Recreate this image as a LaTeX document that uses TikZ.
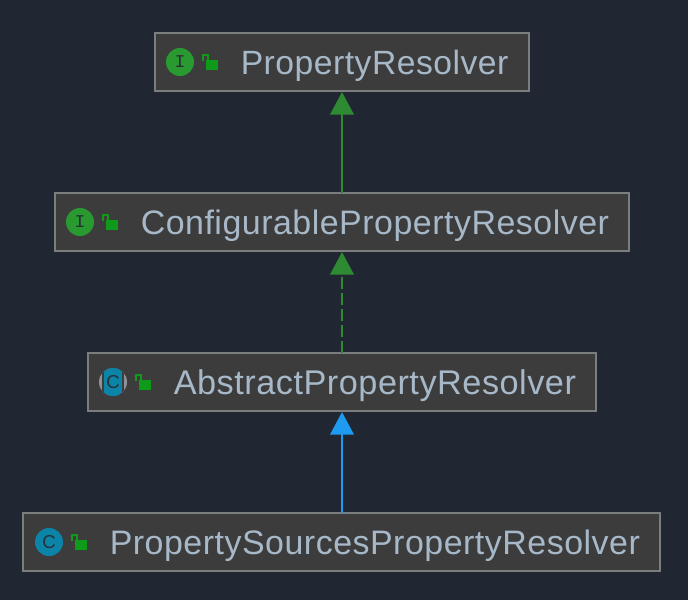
\documentclass[tikz,border=0pt]{standalone}
\usepackage{fontspec}
\setmainfont{Liberation Sans}
\newfontfamily\labelfont[LetterSpace=1.5]{Liberation Sans}
\newfontfamily\iconfont{Liberation Mono}
\usetikzlibrary{arrows.meta,calc}
\definecolor{bgc}{HTML}{212732}
\definecolor{boxc}{HTML}{3C3C3C}
\definecolor{edgec}{HTML}{7B7E7F}
\definecolor{textc}{HTML}{A7B8C8}
\definecolor{greenc}{HTML}{2E8B34}
\definecolor{bluec}{HTML}{1E9BF0}
\definecolor{ifacec}{HTML}{289A30}
\definecolor{lockc}{HTML}{0F9A1A}
\definecolor{classc}{HTML}{0B84A8}
\definecolor{greyc}{HTML}{8E9296}
\definecolor{glyphc}{HTML}{2A3038}
\tikzset{
  x=0.75pt,y=-0.75pt,
  classbox/.style={draw=edgec,fill=boxc,line width=1.9pt,minimum height=43.5pt,inner sep=0pt,outer sep=0pt},
  classname/.style={text=textc,font=\labelfont\fontsize{#1}{30}\selectfont,anchor=base west,inner sep=0pt},
  ifaceglyph/.style={font=\iconfont\fontsize{13.5}{14}\selectfont,text=glyphc,inner sep=0pt},
  classglyph/.style={font=\fontsize{14}{14}\selectfont,text=glyphc,inner sep=0pt},
  inherit/.style={line width=2.2pt,shorten >=0.75pt,-{Triangle[length=17pt,width=17.5pt,sep=0pt]}},
}
\newcommand{\lockat}[1]{%
  \fill[lockc] ($(#1)+(26,-2)$) rectangle ($(#1)+(38,8)$);
  \draw[lockc,line width=1.8pt] ($(#1)+(23,-1)$) -- ($(#1)+(23,-7)$) -- ($(#1)+(28,-7)$) -- ($(#1)+(28,-2)$);
}
\begin{document}
\begin{tikzpicture}
\useasboundingbox (0,0) rectangle (688,600);
\fill[bgc] (0,0) rectangle (688,600);
% boxes
\node[classbox,minimum width=280.5pt] (a) at (342,62) {};
\node[classbox,minimum width=430.5pt] (b) at (342,222) {};
\node[classbox,minimum width=381pt] (c) at (342,382) {};
\node[classbox,minimum width=477.75pt] (d) at (341.5,542) {};
% connectors
\draw[inherit,greenc] (b.north) -- (a.south);
\draw[inherit,greenc,dash pattern=on 8.8pt off 3.2pt] (c.north) -- (b.south);
\draw[inherit,bluec] (c.south |- d.north) -- (c.south);
% icons
\coordinate (ia) at (180,62);
\coordinate (ib) at (80,222);
\coordinate (ic) at (113,382);
\coordinate (id) at (49,542);
\fill[ifacec] (ia) circle (14);
\node[ifaceglyph] (ga) at (ia) {I};
\fill[ifacec] (ib) circle (14);
\node[ifaceglyph] (gb) at (ib) {I};
\fill[greyc] (ic) circle (14);
\begin{scope}
\clip (ic) circle (14);
\fill[boxc] ($(ic)+(-11,-15)$) rectangle ($(ic)+(11,15)$);
\fill[classc] ($(ic)+(-9,-15)$) rectangle ($(ic)+(8.5,15)$);
\end{scope}
\node[classglyph] (gc) at (ic) {C};
\fill[classc] (id) circle (14);
\node[classglyph] (gd) at (id) {C};
\lockat{ia}\lockat{ib}\lockat{ic}\lockat{id}
% labels
\node[classname=25.25] (ta) at (240.5,74) {PropertyResolver};
\node[classname=25.45] (tb) at (140.5,234) {ConfigurablePropertyResolver};
\node[classname=25.7] (tc) at (173.5,394) {AbstractPropertyResolver};
\node[classname=25.45] (td) at (109.5,554) {PropertySourcesPropertyResolver};
\end{tikzpicture}
\end{document}
